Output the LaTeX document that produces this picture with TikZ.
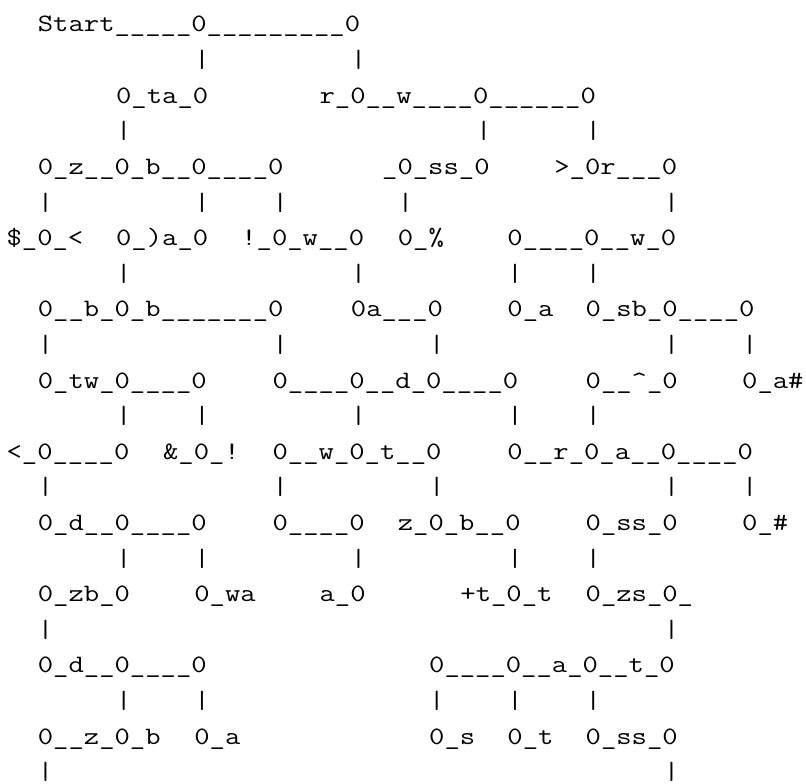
\documentclass[tikz,border=0pt]{standalone}
\usepackage{graphicx}
\usepackage{tikz}
\tikzset{
  txt/.style={anchor=base west, inner sep=0pt, outer sep=0pt, font=\fontsize{25}{30}\selectfont\ttfamily},
}
% monospace cells are 15.65pt wide, rows 35.6pt apart
\newcommand{\wide}[1]{\scalebox{1.192}[1]{#1}}

\begin{document}
\begin{tikzpicture}[x=15.65pt, y=-35.6pt]
\useasboundingbox[fill=white] (-6.6pt,-3.6pt) rectangle (799.4pt,-787.6pt);

\node[txt] (r1a) at (2,1) {\wide{Start\_\_\_\_\_0\_\_\_\_\_\_\_\_\_0}};

\node[txt] (r3a) at (7,3) {\wide{0\_ta\_0}};
\node[txt] (r3b) at (20,3) {\wide{r\_0\_\_w\_\_\_\_0\_\_\_\_\_\_0}};

\node[txt] (r5a) at (2,5) {\wide{0\_z\_\_0\_b\_\_0\_\_\_\_0}};
\node[txt] (r5b) at (24,5) {\wide{\_0\_ss\_0}};
\node[txt] (r5c) at (35,5) {\wide{>\_0r\_\_\_0}};

\node[txt] (r7a) at (0,7) {\wide{\$\_0\_<}};
\node[txt] (r7b) at (7,7) {\wide{0\_)a\_0}};
\node[txt] (r7c) at (15,7) {\wide{!\_0\_w\_\_0}};
\node[txt] (r7d) at (25,7) {\wide{0\_\%}};
\node[txt] (r7e) at (32,7) {\wide{0\_\_\_\_0\_\_w\_0}};

\node[txt] (r9a) at (2,9) {\wide{0\_\_b\_0\_b\_\_\_\_\_\_\_0}};
\node[txt] (r9b) at (22,9) {\wide{0a\_\_\_0}};
\node[txt] (r9c) at (32,9) {\wide{0\_a}};
\node[txt] (r9d) at (37,9) {\wide{0\_sb\_0\_\_\_\_0}};

\node[txt] (r11a) at (2,11) {\wide{0\_tw\_0\_\_\_\_0}};
\node[txt] (r11b) at (17,11) {\wide{0\_\_\_\_0\_\_d\_0\_\_\_\_0}};
\node[txt] (r11c) at (37,11) {\wide{0\_\_\textasciicircum\_0}};
\node[txt] (r11d) at (47,11) {\wide{0\_a\#}};

\node[txt] (r13a) at (0,13) {\wide{<\_0\_\_\_\_0}};
\node[txt] (r13b) at (10,13) {\wide{\&\_0\_!}};
\node[txt] (r13c) at (17,13) {\wide{0\_\_w\_0\_t\_\_0}};
\node[txt] (r13d) at (32,13) {\wide{0\_\_r\_0\_a\_\_0\_\_\_\_0}};

\node[txt] (r15a) at (2,15) {\wide{0\_d\_\_0\_\_\_\_0}};
\node[txt] (r15b) at (17,15) {\wide{0\_\_\_\_0}};
\node[txt] (r15c) at (25,15) {\wide{z\_0\_b\_\_0}};
\node[txt] (r15d) at (37,15) {\wide{0\_ss\_0}};
\node[txt] (r15e) at (47,15) {\wide{0\_\#}};

\node[txt] (r17a) at (2,17) {\wide{0\_zb\_0}};
\node[txt] (r17b) at (12,17) {\wide{0\_wa}};
\node[txt] (r17c) at (20,17) {\wide{a\_0}};
\node[txt] (r17d) at (29,17) {\wide{+t\_0\_t}};
\node[txt] (r17e) at (37,17) {\wide{0\_zs\_0\_}};

\node[txt] (r19a) at (2,19) {\wide{0\_d\_\_0\_\_\_\_0}};
\node[txt] (r19b) at (27,19) {\wide{0\_\_\_\_0\_\_a\_0\_\_t\_0}};

\node[txt] (r21a) at (2,21) {\wide{0\_\_z\_0\_b}};
\node[txt] (r21b) at (12,21) {\wide{0\_a}};
\node[txt] (r21c) at (27,21) {\wide{0\_s}};
\node[txt] (r21d) at (32,21) {\wide{0\_t}};
\node[txt] (r21e) at (37,21) {\wide{0\_ss\_0}};

% the bars between the rows
\foreach \r/\c in {2/12,2/22, 4/7,4/30,4/37, 6/2,6/12,6/17,6/25,6/42,
                   8/7,8/22,8/32,8/37, 10/2,10/17,10/27,10/42,10/47,
                   12/7,12/12,12/22,12/32,12/37, 14/2,14/17,14/27,14/42,14/47,
                   16/7,16/12,16/22,16/32,16/37, 18/2,18/42,
                   20/7,20/12,20/27,20/32,20/37, 22/2,22/42}
  \node[txt] (v\r-\c) at (\c,\r) {\wide{|}};
\end{tikzpicture}
\end{document}
